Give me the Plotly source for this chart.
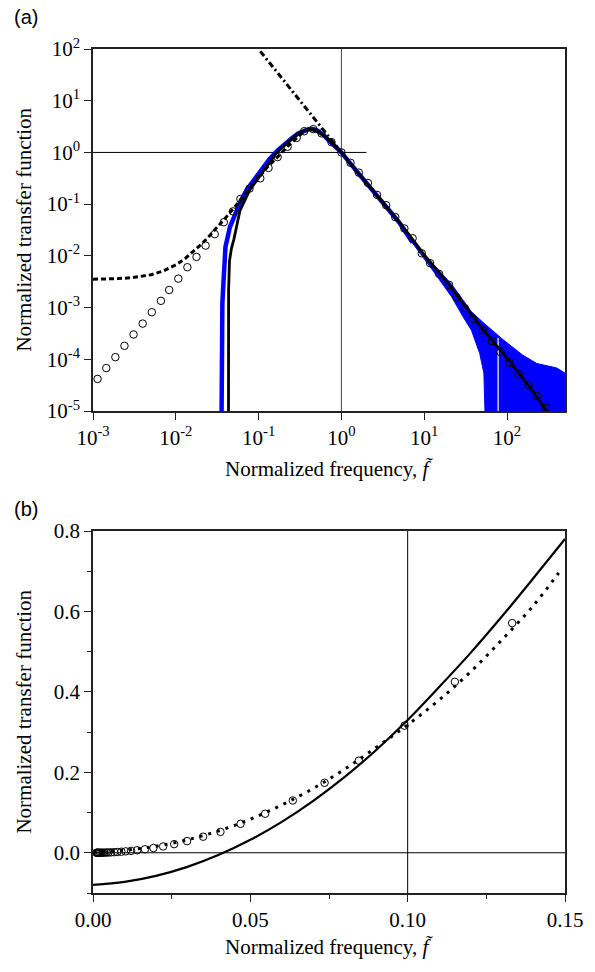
import plotly.graph_objects as go

# ---------------- Panel (a) data (log-log) ----------------
f_circ_a = [0.001135, 0.001445, 0.001862, 0.002399, 0.003090, 0.003981, 0.005129, 0.006607,
            0.008318, 0.01072, 0.01380, 0.01778, 0.02291, 0.02951, 0.03802, 0.04898, 0.06026,
            0.07762, 0.1047, 0.1318, 0.1698, 0.2239, 0.2884, 0.3548, 0.4571, 0.5754, 0.7586,
            1.0, 1.288, 1.622, 2.089, 2.692, 3.467, 4.467, 5.754, 7.244, 9.333, 11.75, 15.14,
            19.95, 24.55, 30.90, 38.90, 51.29, 66.07, 83.18, 107.2, 138.0, 182.0, 229.1, 295.1]
h_circ_a = [4.17e-5, 6.76e-5, 1.10e-4, 1.82e-4, 3.02e-4, 4.90e-4, 8.13e-4, 1.35e-3,
            2.19e-3, 3.63e-3, 6.03e-3, 9.55e-3, 0.0158, 0.0263, 0.0447, 0.0724, 0.126,
            0.200, 0.316, 0.501, 0.813, 1.29, 1.91, 2.57, 2.82, 2.34, 1.58,
            1.0, 0.631, 0.407, 0.257, 0.151, 0.0955, 0.0562, 0.0339, 0.0219, 0.0112, 7.24e-3, 4.47e-3,
            2.75e-3, 1.58e-3, 9.77e-4, 6.03e-4, 3.63e-4, 2.24e-4, 1.38e-4, 8.51e-5, 5.13e-5, 3.16e-5,
            1.95e-5, 1.15e-5]

f_dash_a = [0.001, 0.0015, 0.002, 0.003, 0.004, 0.005, 0.007, 0.01, 0.013, 0.016, 0.02, 0.025,
            0.03, 0.04, 0.05, 0.065, 0.08, 0.1, 0.13, 0.17, 0.22, 0.29, 0.35, 0.42, 0.5, 0.6, 0.75, 1.0]
h_dash_a = [0.00353, 0.00357, 0.00363, 0.00379, 0.00401, 0.0043, 0.00507, 0.0067, 0.00891, 0.0117,
            0.0163, 0.0235, 0.0323, 0.0547, 0.0835, 0.139, 0.208, 0.32, 0.54, 0.82, 1.27, 1.92,
            2.5, 2.8, 2.6, 2.2, 1.55, 1.0]

f_asym_a = [0.105, 0.2, 0.4, 0.6, 1.0]
h_asym_a = [90.0, 25.0, 6.25, 2.78, 1.0]

f_solid_a = [0.0432, 0.0434, 0.0445, 0.047, 0.0501, 0.0595, 0.078, 0.1, 0.13, 0.162, 0.2, 0.25,
             0.3, 0.35, 0.4, 0.45, 0.5, 0.6, 0.7, 0.8, 1.0, 1.5, 2.0, 3.0, 5.0, 7.0, 10.0, 20.0,
             50.0, 100.0, 200.0, 300.0, 330.0]
h_solid_a = [1e-7, 0.0022, 0.008, 0.014, 0.0204, 0.075, 0.186, 0.33, 0.6, 0.95, 1.35, 1.85,
             2.3, 2.6, 2.8, 2.83, 2.7, 2.2, 1.75, 1.45, 1.0, 0.45, 0.26, 0.118, 0.045, 0.0225, 0.0105,
             0.00275, 3.9e-4, 1.05e-4, 2.55e-5, 1.0e-5, 8e-6]

f_blue_a = [0.0350, 0.0353, 0.0358, 0.0365, 0.0372, 0.0385, 0.0398, 0.045, 0.0501, 0.06, 0.0714,
            0.085, 0.1, 0.135, 0.17, 0.21, 0.254, 0.3, 0.35, 0.4, 0.45, 0.5, 0.6, 0.7, 0.8, 1.0,
            1.5, 2.0, 3.0, 5.0, 7.24]
h_blue_a = [1e-7, 1e-4, 5e-4, 1.2e-3, 2.2e-3, 7e-3, 0.015, 0.036, 0.0575, 0.11, 0.186,
            0.27, 0.39, 0.74, 1.1, 1.5, 1.9, 2.32, 2.62, 2.82, 2.85, 2.7, 2.2, 1.75, 1.45, 1.0,
            0.45, 0.26, 0.118, 0.044, 0.0182]

f_band_lo = [58.9, 52.5, 46.8, 37.2, 29.5, 21.4, 12.5, 7.24]
h_band_lo = [1e-7, 5.4e-5, 1.29e-4, 3.63e-4, 6.6e-4, 1.62e-3, 5.4e-3, 0.0175]
f_band_hi = [7.24, 12.5, 21.5, 37.2, 52.5, 91.2, 155.0, 229.0, 302.0, 398.0, 501.0, 600.0, 600.0]
h_band_hi = [0.019, 7.1e-3, 2.8e-3, 8.3e-4, 5.0e-4, 2.34e-4, 1.2e-4, 8.3e-5, 7.6e-5, 6.8e-5, 5.4e-5, 5.0e-5, 1e-7]

f_gap_a = [78.0, 78.0]
h_gap_a = [2.57e-4, 1e-7]

f_href_a = [0.001, 2.0]
h_href_a = [1.0, 1.0]
f_vref_a = [1.0, 1.0]
h_vref_a = [1e-5, 100.0]

xtick_a = [0.001, 0.01, 0.1, 1, 10, 100]
xtext_a = ["10<sup>-3</sup>", "10<sup>-2</sup>", "10<sup>-1</sup>", "10<sup>0</sup>",
           "10<sup>1</sup>", "10<sup>2</sup>"]
ytick_a = [1e-5, 1e-4, 1e-3, 1e-2, 1e-1, 1, 10, 100]
ytext_a = ["10<sup>-5</sup>", "10<sup>-4</sup>", "10<sup>-3</sup>", "10<sup>-2</sup>",
           "10<sup>-1</sup>", "10<sup>0</sup>", "10<sup>1</sup>", "10<sup>2</sup>"]

# ---------------- Panel (b) data (linear) ----------------
f_circ_b = [0.1332, 0.115, 0.099, 0.0845, 0.0736, 0.0635, 0.0547, 0.0469, 0.0405, 0.035, 0.0299,
            0.0258, 0.0223, 0.0192, 0.0165, 0.014, 0.0121, 0.0104, 0.009, 0.0077, 0.0067, 0.0057,
            0.0049, 0.0043, 0.0037, 0.0032, 0.0027, 0.0023, 0.002, 0.0017, 0.0015, 0.0013, 0.0011]
h_circ_b = [0.571, 0.425, 0.316, 0.229, 0.174, 0.130, 0.097, 0.072, 0.052, 0.040, 0.029,
            0.0215, 0.0158, 0.0118, 0.0087, 0.0063, 0.0047, 0.0035, 0.0026, 0.0019, 0.0014, 0.0010,
            0.0008, 0.0006, 0.0004, 0.0003, 0.0002, 0.0002, 0.0001, 0.0001, 0.0001, 0.0001, 0.0]

f_dot_b = [0.0, 0.005, 0.01, 0.015, 0.02, 0.03, 0.04, 0.05, 0.06, 0.07, 0.08, 0.09, 0.1,
           0.11, 0.12, 0.13, 0.14, 0.148]
h_dot_b = [0.0035, 0.0043, 0.0067, 0.0107, 0.0163, 0.0323, 0.0547, 0.0835, 0.119, 0.160, 0.208,
           0.262, 0.318, 0.38, 0.45, 0.53, 0.615, 0.696]

f_solid_b = [0.0, 0.01, 0.02, 0.03, 0.04, 0.05, 0.06, 0.07, 0.08, 0.09, 0.10, 0.11, 0.12,
             0.13, 0.14, 0.15]
h_solid_b = [-0.080, -0.0724, -0.0574, -0.0350, -0.0051, 0.0322, 0.0769, 0.1291, 0.1886, 0.2556,
             0.330, 0.412, 0.497, 0.588, 0.683, 0.780]

f_href_b = [0.0, 0.15]
h_href_b = [0.0, 0.0]
f_vref_b = [0.1, 0.1]
h_vref_b = [-0.1, 0.8]

xtick_b = [0.0, 0.05, 0.10, 0.15]
xtext_b = ["0.00", "0.05", "0.10", "0.15"]
ytick_b = [0.0, 0.2, 0.4, 0.6, 0.8]
ytext_b = ["0.0", "0.2", "0.4", "0.6", "0.8"]

SERIF = "Liberation Serif, Times New Roman, Times, serif"
SANS = "Liberation Sans, Arial, Helvetica, sans-serif"
BLUE = "#0000ff"
FS = 21

fig = go.Figure()

def add(x, y, xa, ya, **kw):
    fig.add_trace(go.Scatter(x=x, y=y, xaxis=xa, yaxis=ya, showlegend=False,
                             hoverinfo="skip", **kw))

# ---- panel (a)
add(f_href_a, h_href_a, "x", "y", mode="lines", line=dict(color="black", width=1))
add(f_vref_a, h_vref_a, "x", "y", mode="lines", line=dict(color="#444444", width=1))
add(f_band_lo + f_band_hi, h_band_lo + h_band_hi, "x", "y", mode="lines",
    fill="toself", fillcolor=BLUE, line=dict(color=BLUE, width=1))
add(f_blue_a, h_blue_a, "x", "y", mode="lines", line=dict(color=BLUE, width=4.5))
add(f_gap_a, h_gap_a, "x", "y", mode="lines", line=dict(color="white", width=1.2))
add(f_dash_a, h_dash_a, "x", "y", mode="lines", line=dict(color="black", width=3, dash="5px,3px"))
add(f_asym_a, h_asym_a, "x", "y", mode="lines",
    line=dict(color="black", width=3, dash="6px,3px,2px,3px"))
add(f_solid_a, h_solid_a, "x", "y", mode="lines", line=dict(color="black", width=2.8))
add(f_circ_a, h_circ_a, "x", "y", mode="markers",
    marker=dict(symbol="circle-open", size=7.5, color="black", line=dict(width=1)))

# ---- panel (b)
add(f_href_b, h_href_b, "x2", "y2", mode="lines", line=dict(color="black", width=1))
add(f_vref_b, h_vref_b, "x2", "y2", mode="lines", line=dict(color="black", width=1))
add(f_solid_b, h_solid_b, "x2", "y2", mode="lines", line=dict(color="black", width=2.2, shape="spline"))
add(f_dot_b, h_dot_b, "x2", "y2", mode="lines",
    line=dict(color="black", width=3, dash="3px,6px", shape="spline"))
add(f_circ_b, h_circ_b, "x2", "y2", mode="markers",
    marker=dict(symbol="circle-open", size=7.5, color="black", line=dict(width=1)))

axis_common = dict(showgrid=False, zeroline=False, showline=True, linecolor="#222222",
                   linewidth=1.5, mirror=True, ticks="outside", tickcolor="#222222",
                   ticklen=7, tickwidth=1.2, tickfont=dict(family=SERIF, size=FS, color="black"))

top_y0 = (893 - 411) / 844.0
bot_y1 = (893 - 531) / 844.0

fig.update_layout(
    width=595, height=972,
    margin=dict(l=93, r=19, t=49, b=79),
    paper_bgcolor="white", plot_bgcolor="white",
    font=dict(family=SERIF, size=FS, color="black"),
    xaxis=dict(type="log", range=[-3, 2.7], domain=[0, 1], anchor="y",
               tickvals=xtick_a, ticktext=xtext_a, **axis_common),
    yaxis=dict(type="log", range=[-5, 2], domain=[top_y0, 1], anchor="x",
               tickvals=ytick_a, ticktext=ytext_a, **axis_common),
    xaxis2=dict(range=[0, 0.15], domain=[0, 1], anchor="y2",
                tickvals=xtick_b, ticktext=xtext_b,
                minor=dict(ticks="outside", tickvals=[0.025, 0.075, 0.125], ticklen=4,
                           tickcolor="#222222", tickwidth=1),
                **axis_common),
    yaxis2=dict(range=[-0.1, 0.8], domain=[0, bot_y1], anchor="x2",
                tickvals=ytick_b, ticktext=ytext_b,
                minor=dict(ticks="outside", tickvals=[-0.1, 0.1, 0.3, 0.5, 0.7], ticklen=4,
                           tickcolor="#222222", tickwidth=1),
                **axis_common),
)

def ypap(py):
    return (893 - py) / 844.0

def xpap(px):
    return (px - 93) / 483.0

ann = []
ann.append(dict(text="(a)", x=xpap(10), y=ypap(17), xanchor="left", yanchor="middle",
                font=dict(family=SANS, size=20, color="black")))
ann.append(dict(text="(b)", x=xpap(10), y=ypap(509), xanchor="left", yanchor="middle",
                font=dict(family=SANS, size=20, color="black")))
for py in (469, 947):
    ann.append(dict(text="Normalized frequency, <i>f\u0303</i>", x=xpap(334.5), y=ypap(py),
                    xanchor="center", yanchor="middle",
                    font=dict(family=SERIF, size=FS, color="black")))
for py in (230, 712):
    ann.append(dict(text="Normalized transfer function", x=xpap(22), y=ypap(py),
                    xanchor="center", yanchor="middle", textangle=-90,
                    font=dict(family=SERIF, size=FS, color="black")))
for a in ann:
    a.update(xref="paper", yref="paper", showarrow=False)
fig.update_layout(annotations=ann)

fig.write_html("out.html")
